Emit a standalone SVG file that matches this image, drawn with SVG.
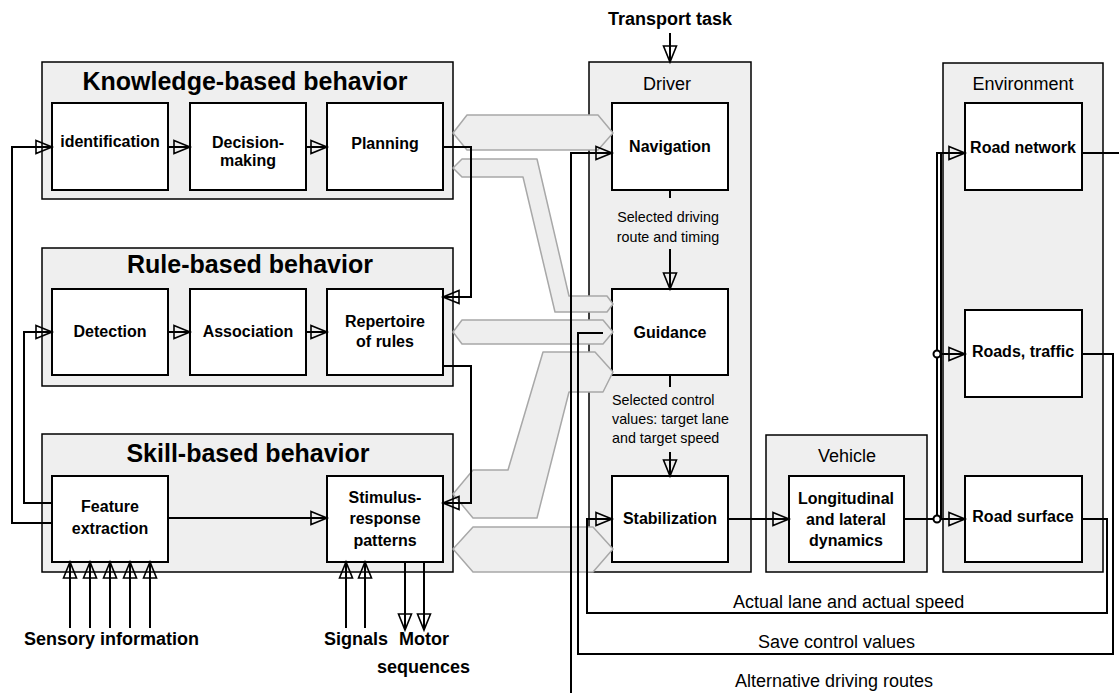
<svg xmlns="http://www.w3.org/2000/svg" width="1119" height="693" viewBox="0 0 1119 693">
<defs>
<marker id="ah" markerUnits="userSpaceOnUse" markerWidth="20" markerHeight="18" refX="16" refY="8" orient="auto" overflow="visible"><path d="M0,1.5 L16,8 L0,14.5 Z" fill="none" stroke="#000" stroke-width="1.6"/></marker>
<style>
.blk{fill:#efefef;stroke:#000;stroke-width:1.5}
.box{fill:#fff;stroke:#000;stroke-width:2}
.ttl{font-family:"Liberation Sans",Arial,sans-serif;font-weight:bold;font-size:25px;text-anchor:middle}
.lbl{font-family:"Liberation Sans",Arial,sans-serif;font-weight:bold;font-size:16px;text-anchor:middle}
.big{font-family:"Liberation Sans",Arial,sans-serif;font-weight:bold;font-size:18px}
.nm{font-family:"Liberation Sans",Arial,sans-serif;font-size:18px}
.sm{font-family:"Liberation Sans",Arial,sans-serif;font-size:14.3px}
.ln{fill:none;stroke:#000;stroke-width:2}
.ar{marker-end:url(#ah)}
.gs{fill:#eeeeee;stroke:#a8a8a8;stroke-width:1.5;stroke-linejoin:round}
.dot{fill:#fff;stroke:#000;stroke-width:2}
</style>
</defs>
<rect width="1119" height="693" fill="#fff"/>

<g id="knowledge">
<rect class="blk" x="42" y="62" width="411" height="137"/>
<text class="ttl" x="245" y="90">Knowledge-based behavior</text>
</g>
<g id="identification"><rect class="box" x="52" y="103" width="116" height="87"/><text class="lbl" x="110" y="147">identification</text></g>
<g id="decision"><rect class="box" x="190" y="103" width="116" height="87"/><text class="lbl" x="248" y="148">Decision-</text><text class="lbl" x="248" y="166">making</text></g>
<g id="planning"><rect class="box" x="327" y="103" width="116" height="87"/><text class="lbl" x="385" y="149">Planning</text></g>

<g id="rule">
<rect class="blk" x="42" y="248" width="411" height="138"/>
<text class="ttl" x="250" y="273">Rule-based behavior</text>
</g>
<g id="detection"><rect class="box" x="52" y="289" width="116" height="86"/><text class="lbl" x="110" y="337">Detection</text></g>
<g id="association"><rect class="box" x="190" y="289" width="116" height="86"/><text class="lbl" x="248" y="337">Association</text></g>
<g id="repertoire"><rect class="box" x="327" y="289" width="116" height="86"/><text class="lbl" x="385" y="327">Repertoire</text><text class="lbl" x="385" y="347">of rules</text></g>

<g id="skill">
<rect class="blk" x="42" y="434" width="411" height="138"/>
<text class="ttl" x="248" y="462">Skill-based behavior</text>
</g>
<g id="feature"><rect class="box" x="52" y="476" width="116" height="86"/><text class="lbl" x="110" y="512">Feature</text><text class="lbl" x="110" y="534">extraction</text></g>
<g id="stimulus"><rect class="box" x="327" y="476" width="116" height="86"/><text class="lbl" x="385" y="503">Stimulus-</text><text class="lbl" x="385" y="524">response</text><text class="lbl" x="385" y="546">patterns</text></g>

<g id="driver">
<rect class="blk" x="589" y="62" width="162" height="510"/>
<text class="nm" x="667" y="90" text-anchor="middle">Driver</text>
</g>
<g id="navigation"><rect class="box" x="612" y="103" width="116" height="87"/><text class="lbl" x="670" y="152">Navigation</text></g>
<g id="guidance"><rect class="box" x="612" y="289" width="116" height="86"/><text class="lbl" x="670" y="338">Guidance</text></g>
<g id="stabilization"><rect class="box" x="612" y="476" width="116" height="86"/><text class="lbl" x="670" y="524">Stabilization</text></g>

<g id="vehicle">
<rect class="blk" x="766" y="435" width="161" height="137"/>
<text class="nm" x="847" y="462" text-anchor="middle">Vehicle</text>
</g>
<g id="dynamics"><rect class="box" x="789" y="476" width="115" height="86"/><text class="lbl" x="846" y="504">Longitudinal</text><text class="lbl" x="846" y="525">and lateral</text><text class="lbl" x="846" y="546">dynamics</text></g>

<g id="environment">
<rect class="blk" x="943" y="63" width="160" height="509"/>
<text class="nm" x="1023" y="90" text-anchor="middle">Environment</text>
</g>
<g id="roadnetwork"><rect class="box" x="965" y="103" width="117" height="87"/><text class="lbl" x="1023" y="153">Road network</text></g>
<g id="roadstraffic"><rect class="box" x="965" y="310" width="117" height="87"/><text class="lbl" x="1023" y="357">Roads, traffic</text></g>
<g id="roadsurface"><rect class="box" x="965" y="476" width="117" height="86"/><text class="lbl" x="1023" y="522">Road surface</text></g>

<g id="flows">
<polygon class="gs" points="453,133 467,115 598,115 613,133 598,150 467,150"/>
<polygon class="gs" points="453,168 462,159 537,159 569,296 607,296 613,304 607,312 555,312 523,177 462,177"/>
<polygon class="gs" points="453,332 462,320 603,320 613,332 603,344 462,344"/>
<polygon class="gs" points="453,494 473,470 508,470 543,352 595,352 613,372 603,392 569,392 537,518 473,518"/>
<polygon class="gs" points="453,549 473,527 593,527 613,549 593,572 473,572"/>
</g>

<g id="connectors">
<path class="ln ar" d="M168,147 H190"/>
<path class="ln ar" d="M306,147 H327"/>
<path class="ln ar" d="M168,332 H190"/>
<path class="ln ar" d="M306,332 H327"/>
<path class="ln ar" d="M168,518 H327"/>
<path class="ln ar" d="M52,523 H12 V147 H52"/>
<path class="ln ar" d="M52,503 H24 V332 H52"/>
<path class="ln ar" d="M443,147 H471 V297 H443"/>
<path class="ln ar" d="M443,366 H471 V503 H443"/>
<path class="ln ar" d="M70,628 V562"/>
<path class="ln ar" d="M90,628 V562"/>
<path class="ln ar" d="M110,628 V562"/>
<path class="ln ar" d="M130,628 V562"/>
<path class="ln ar" d="M150,628 V562"/>
<path class="ln ar" d="M346,628 V562"/>
<path class="ln ar" d="M365,628 V562"/>
<path class="ln ar" d="M405,562 V630"/>
<path class="ln ar" d="M424,562 V630"/>
<path class="ln ar" d="M670,33 V62"/>
<path class="ln" d="M670,190 V198"/>
<path class="ln ar" d="M670,249 V289"/>
<path class="ln" d="M670,375 V387"/>
<path class="ln ar" d="M670,452 V476"/>
<path class="ln ar" d="M728,519 H789"/>
<path class="ln ar" d="M904,519 H965"/>
<path class="ln ar" d="M937,519 V153 H965"/>
<path class="ln" d="M941,519 V153"/>
<path class="ln ar" d="M937,354 H965"/>
<circle class="dot" cx="937" cy="354" r="3.5"/>
<circle class="dot" cx="937" cy="519" r="3.5"/>
<path class="ln ar" d="M1082,519 H1107 V613 H587 V519 H612"/>
<path class="ln" d="M1082,354 H1113 V654 H578 V333 H603"/>
<path class="ln" d="M1082,153 H1119"/>
<path class="ln ar" d="M571,693 V153 H612"/>
</g>

<g id="labels">
<text class="big" x="670" y="25" text-anchor="middle">Transport task</text>
<text class="sm" x="668" y="222" text-anchor="middle">Selected driving</text>
<text class="sm" x="668" y="242" text-anchor="middle">route and timing</text>
<text class="sm" x="612" y="405">Selected control</text>
<text class="sm" x="612" y="424">values: target lane</text>
<text class="sm" x="612" y="443">and target speed</text>
<text class="nm" x="733" y="608">Actual lane and actual speed</text>
<text class="nm" x="758" y="648">Save control values</text>
<text class="nm" x="735" y="687">Alternative driving routes</text>
<text class="big" x="24" y="645">Sensory information</text>
<text class="big" x="324" y="645">Signals</text>
<text class="big" x="399" y="645">Motor</text>
<text class="big" x="377" y="673">sequences</text>
</g>
</svg>
